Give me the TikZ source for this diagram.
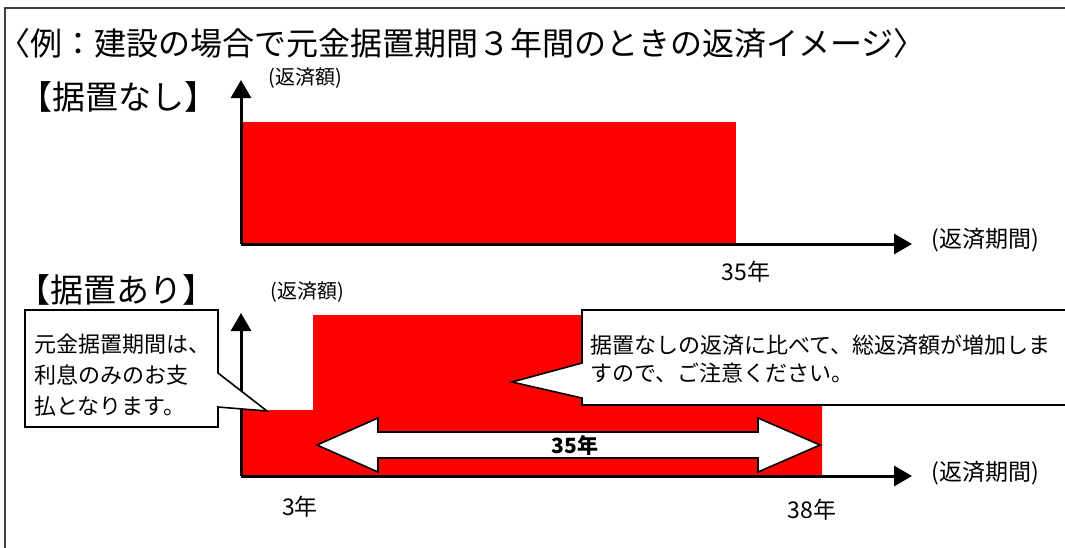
\documentclass[tikz,border=0pt]{standalone}
\usepackage{fontspec}
\usepackage{tikz}
\newfontfamily\jp{Noto Sans CJK JP}
\usetikzlibrary{arrows.meta, positioning}

\tikzset{
  axis/.style={line width=3pt, -{Triangle[length=18pt, width=20pt]}},
  outline/.style={draw=black, fill=white, line width=1.6pt},
  lbl/.style={font=\jp\fontsize{20}{22}\selectfont, inner sep=0pt},
  yrs/.style={font=\jp\fontsize{23}{25}\selectfont, inner sep=0pt},
  head/.style={font=\jp\fontsize{33}{35}\selectfont, inner sep=0pt},
  note/.style={font=\jp\fontsize{22}{28}\selectfont, inner sep=0pt, align=left, anchor=west}
}

\begin{document}
\begin{tikzpicture}[x=1pt, y=-1pt]
  \useasboundingbox (0,0) rectangle (1065,547);
  \draw[line width=2pt, black!75] (5,560) -- (5,8) -- (1075,8);

  \node (title) [anchor=west, font=\jp\fontsize{32}{34}\selectfont, inner sep=0pt] at (-2,43)
    {〈例：建設の場合で元金据置期間３年間のときの返済イメージ〉};
  \node (nashi) [head] at (118,97) {【据置なし】};
  \node (ari) [head] at (116,290) {【据置あり】};

  % without deferment
  \coordinate (o1) at (241,244);
  \fill[red] (241,122) rectangle (736,244);
  \draw[axis] (o1) -- (241,80);
  \draw[axis] (o1) -- (912,244);
  \node (gaku1) [lbl] at (305,78) {(返済額)};
  \node (kikan1) [lbl, font=\jp\fontsize{23}{25}\selectfont] at (985,240) {(返済期間)};
  \node (y35) [yrs] at (746,272) {35年};

  % with deferment
  \coordinate (o2) at (241,476);
  \fill[red] (241,410) -- (313,410) -- (313,315) -- (822,315) -- (822,476) -- (241,476) -- cycle;
  \draw[axis] (o2) -- (241,313);
  \draw[axis] (o2) -- (912,476);
  \node (gaku2) [lbl] at (307,292) {(返済額)};
  \node (kikan2) [lbl, font=\jp\fontsize{23}{25}\selectfont] at (985,473) {(返済期間)};
  \node (y3) [yrs] at (300,507) {3年};
  \node (y38) [yrs] at (812,510) {38年};

  \draw[outline] (317,445) -- (378,418) -- (378,432) -- (758,432) -- (758,418)
    -- (820,445) -- (758,472) -- (758,458) -- (378,458) -- (378,472) -- cycle;
  \node (span) [yrs, font=\jp\bfseries\fontsize{21}{23}\selectfont] at (575,445) {35年};

  % callouts
  \draw[outline] (25,310) -- (218,310) -- (218,373) -- (267,411) -- (218,407)
    -- (218,427) -- (25,427) -- cycle;
  \node (memo1) [note, font=\jp\fontsize{22}{31}\selectfont] at (34,375)
    {元金据置期間は、\\利息のみのお支\\払となります。};
  \draw[outline] (582,310) -- (1075,310) -- (1075,405) -- (582,405) -- (582,398)
    -- (512,382) -- (582,363) -- cycle;
  \node (memo2) [note] at (590,359)
    {据置なしの返済に比べて、総返済額が増加しま\\すので、ご注意ください。};
\end{tikzpicture}
\end{document}
